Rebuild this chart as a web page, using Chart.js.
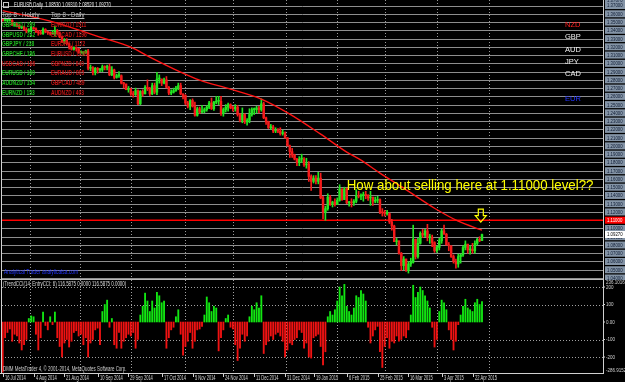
<!DOCTYPE html>
<html>
<head>
<meta charset="utf-8">
<script src="https://cdn.jsdelivr.net/npm/chart.js@4.4.1/dist/chart.umd.min.js"></script>
<style>
html, body { margin: 0; padding: 0; background: #000; overflow: hidden; }
#wrap { position: relative; width: 625px; height: 382px; background: #000; }
canvas { position: absolute; left: 0; }
#price { top: 0; }
#cci { top: 279px; }
</style>
</head>
<body>
<div id="wrap">
  <canvas id="price" width="625" height="280"></canvas>
  <canvas id="cci" width="625" height="103"></canvas>
</div>
<script>
// EURUSD daily, 16 Jul 2014 - 28 Apr 2015 (one value per trading day)
const firstOpen = 1.353;
const closes = [
  1.352,1.352,1.352,1.352,1.346,1.347,1.346,1.343,1.344,1.341,1.339,1.339,1.343,
  1.342,1.338,1.337,1.336,1.341,1.338,1.337,1.336,1.336,1.340,
  1.336,1.332,1.326,1.328,1.324,1.320,1.317,1.319,1.318,1.313,
  1.313,1.313,1.315,1.294,1.295,1.289,1.294,1.292,1.292,1.296,
  1.295,1.296,1.286,1.292,1.283,1.285,1.285,1.276,1.275,1.268,
  1.269,1.263,1.262,1.267,1.251,1.266,1.263,1.271,1.269,1.263,
  1.273,1.265,1.281,1.281,1.276,1.280,1.271,1.264,1.265,1.267,
  1.270,1.273,1.263,1.261,1.252,1.248,1.255,1.248,1.237,1.245,
  1.241,1.242,1.244,1.247,1.252,1.245,1.253,1.254,1.254,1.239,
  1.244,1.247,1.250,1.246,1.245,1.247,1.238,1.231,1.238,1.229,
  1.231,1.238,1.244,1.244,1.246,1.244,1.251,1.234,1.229,1.222,
  1.223,1.218,1.219,1.218,1.215,1.215,1.210,1.200,1.193,1.189,
  1.184,1.180,1.184,1.184,1.177,1.178,1.163,1.157,1.161,1.157,
  1.161,1.137,1.120,1.124,1.138,1.129,1.132,1.129,1.134,1.148,
  1.135,1.148,1.131,1.132,1.131,1.133,1.140,1.139,1.140,1.141,
  1.140,1.137,1.138,1.133,1.134,1.135,1.120,1.119,1.118,1.118,
  1.108,1.103,1.084,1.085,1.070,1.055,1.063,1.049,1.057,1.059,
  1.087,1.066,1.082,1.094,1.092,1.097,1.089,1.089,1.083,1.073,
  1.077,1.085,1.097,1.093,1.080,1.079,1.066,1.060,1.057,1.066,
  1.068,1.077,1.081,1.074,1.075,1.073,1.082,1.087,1.0853,1.0927
];
const highs = [
  1.354,1.355,1.354,1.354,1.353,1.348,1.349,1.347,1.345,1.345,1.343,1.342,1.345,
  1.344,1.343,1.340,1.340,1.343,1.342,1.339,1.338,1.340,1.345,
  1.341,1.338,1.333,1.330,1.330,1.321,1.321,1.320,1.320,1.318,
  1.315,1.314,1.316,1.317,1.298,1.296,1.295,1.295,1.294,1.298,
  1.297,1.298,1.299,1.296,1.293,1.287,1.290,1.286,1.277,1.275,
  1.272,1.270,1.266,1.270,1.268,1.267,1.268,1.273,1.280,1.271,
  1.276,1.276,1.289,1.286,1.281,1.282,1.284,1.272,1.268,1.270,
  1.272,1.276,1.276,1.263,1.262,1.254,1.256,1.257,1.253,1.247,
  1.247,1.249,1.246,1.249,1.254,1.258,1.254,1.260,1.260,1.260,
  1.246,1.250,1.252,1.251,1.248,1.250,1.249,1.239,1.246,1.239,
  1.233,1.245,1.246,1.246,1.248,1.248,1.257,1.253,1.235,1.230,
  1.226,1.225,1.222,1.221,1.222,1.219,1.217,1.210,1.201,1.197,
  1.190,1.185,1.187,1.190,1.186,1.185,1.181,1.165,1.164,1.164,
  1.168,1.167,1.139,1.127,1.142,1.140,1.133,1.136,1.137,1.153,
  1.148,1.150,1.149,1.133,1.136,1.135,1.147,1.145,1.142,1.144,
  1.145,1.141,1.145,1.138,1.138,1.139,1.136,1.124,1.122,1.122,
  1.119,1.111,1.104,1.088,1.085,1.071,1.066,1.062,1.060,1.064,
  1.104,1.087,1.088,1.096,1.099,1.099,1.105,1.093,1.092,1.084,
  1.079,1.088,1.099,1.104,1.094,1.083,1.079,1.068,1.063,1.069,
  1.069,1.079,1.085,1.081,1.079,1.082,1.085,1.088,1.090,1.0931
];
const lows = [
  1.351,1.351,1.350,1.351,1.346,1.345,1.344,1.342,1.342,1.340,1.337,1.338,1.338,
  1.341,1.337,1.334,1.335,1.335,1.337,1.335,1.334,1.335,1.333,
  1.335,1.331,1.325,1.324,1.322,1.317,1.316,1.316,1.315,1.312,
  1.312,1.310,1.312,1.292,1.291,1.286,1.286,1.288,1.290,1.290,
  1.292,1.292,1.285,1.285,1.281,1.282,1.283,1.275,1.270,1.268,
  1.265,1.261,1.259,1.261,1.250,1.250,1.260,1.263,1.267,1.261,
  1.262,1.263,1.262,1.276,1.273,1.275,1.270,1.262,1.262,1.264,
  1.266,1.268,1.262,1.257,1.250,1.246,1.244,1.247,1.236,1.236,
  1.239,1.240,1.240,1.242,1.245,1.244,1.243,1.251,1.250,1.237,
  1.236,1.241,1.242,1.245,1.242,1.242,1.236,1.229,1.228,1.227,
  1.225,1.228,1.236,1.238,1.240,1.240,1.242,1.233,1.226,1.221,
  1.220,1.216,1.216,1.216,1.213,1.213,1.209,1.200,1.186,1.186,
  1.183,1.176,1.176,1.180,1.175,1.173,1.157,1.146,1.155,1.154,
  1.154,1.136,1.112,1.110,1.122,1.128,1.126,1.127,1.130,1.133,
  1.134,1.135,1.130,1.127,1.126,1.128,1.131,1.137,1.135,1.133,
  1.136,1.134,1.128,1.128,1.131,1.131,1.118,1.115,1.115,1.116,
  1.106,1.098,1.084,1.080,1.069,1.049,1.050,1.048,1.046,1.054,
  1.058,1.063,1.064,1.081,1.089,1.090,1.085,1.082,1.078,1.071,
  1.071,1.074,1.082,1.093,1.080,1.073,1.065,1.058,1.052,1.053,
  1.058,1.066,1.074,1.070,1.069,1.070,1.070,1.080,1.084,1.0852
];

// red moving average, read at a few bar positions
const maIdx = [0, 20, 41, 54, 62, 75, 83, 96, 109, 121, 134, 145, 151, 159, 169, 182, 192, 202];
const maVal = [1.3639, 1.3512, 1.3318, 1.3197, 1.3076, 1.2894, 1.2797, 1.2688, 1.2567, 1.2385,
               1.2142, 1.1924, 1.1827, 1.1670, 1.1488, 1.1245, 1.1088, 1.0979];

// TrendCCI histogram
const cciVals = [
  -287,-90,-60,-40,-110,-70,-80,-120,-160,-130,-100,20,35,
  30,-70,-160,-90,57,-20,-45,30,-15,57,
  -90,-140,-200,-120,-100,-143,-110,-60,-50,-80,
  -70,-130,-90,-200,-120,-100,-45,-35,-130,60,
  100,125,-30,20,-130,-150,-60,-150,-110,-90,
  -70,-80,-60,-150,-100,40,90,165,120,60,
  120,80,170,150,110,120,-150,-90,-45,-30,
  30,70,-70,-190,-140,-110,-60,-150,-110,-45,
  -40,-25,40,143,110,60,90,80,-165,-90,
  -45,20,40,-30,-40,-130,-220,-150,-70,-110,
  -80,30,90,70,110,80,150,-180,-130,-110,
  -80,-100,-70,-60,-80,-110,-200,-160,-120,-130,
  -100,-90,-45,-60,-150,-120,-200,-206,-90,-80,
  -70,-140,-245,-170,30,60,40,70,120,200,
  150,215,90,60,40,80,150,140,180,160,
  120,-30,-120,-80,-45,-25,-170,-260,-140,-90,
  -150,-110,-120,-80,-110,-100,-80,-90,-45,40,
  210,140,170,200,180,150,120,80,-30,-143,
  -100,60,125,110,70,-45,-100,-160,-110,-15,
  40,90,130,80,70,60,110,130,100,116.5875
];

// axes / grid
const priceLines = [1.37,1.36,1.35,1.34,1.33,1.32,1.31,1.30,1.29,1.28,1.27,1.26,1.25,1.24,1.23,1.22,
                    1.21,1.20,1.19,1.18,1.17,1.16,1.15,1.14,1.13,1.12,1.11,1.10,1.09,1.08,1.07,1.06,1.05,1.04];
const sellLevel = 1.11;
const monthStarts = [11.5, 32.5, 54, 77, 97, 119.5, 141, 161, 183, 205];
const dateIdx = [0, 13, 26, 40, 53, 67, 80, 93, 106, 119, 131, 145, 158, 171, 185, 198];
const dateText = ['16 Jul 2014','4 Aug 2014','21 Aug 2014','10 Sep 2014','29 Sep 2014','17 Oct 2014',
  '5 Nov 2014','24 Nov 2014','11 Dec 2014','31 Dec 2014','19 Jan 2015','6 Feb 2015','25 Feb 2015',
  '16 Mar 2015','3 Apr 2015','22 Apr 2015'];
const cciLevels = [200, 100, -100, -200];
const cciLabels = ['200', '100', '0.00', '-100', '-200'];
const cciLabelVals = [200, 100, 0, -100, -200];

// texts on the chart
const hourlyTop = ['GBPNZD / 289','GBPUSD / 242','GBPJPY / 238','GBPCHF / 186','USDCAD / 166','EURUSD / 160','AUDNZD / 154','EURNZD / 153'];
const hourlyUp = [true, true, true, true, false, true, true, true];
const dailyTop = ['EURNZD / 1511','EURCAD / 1196','EURJPY / 1172','EURUSD / 1036','GBPNZD / 840','EURAUD / 805','GBPCAD / 489','AUDNZD / 403'];
const currencies = ['NZD', 'GBP', 'AUD', 'JPY', 'CAD', 'EUR'];
const currencyY = [25, 37, 50, 62, 74, 99];
const currencyColor = ['#ff2020', '#f2f2f2', '#f2f2f2', '#f2f2f2', '#f2f2f2', '#2233ff'];
const noteIdx = 145, notePrice = 1.1464;
const arrowIdx = 201.5, arrowPrice = 1.1076;

const opens = closes.map((c, i) => i === 0 ? firstOpen : closes[i - 1]);
const bars = closes.map((c, i) => i);
const upColor = '#22e622', dnColor = '#f51a1a';
const barColor = i => closes[i] >= opens[i] ? upColor : dnColor;
const smallFont = '"Liberation Sans", Arial, sans-serif';

function line(ctx, x1, y1, x2, y2) {
  ctx.beginPath(); ctx.moveTo(x1, y1); ctx.lineTo(x2, y2); ctx.stroke();
}

// MT4 text is narrow, so squeeze it horizontally
function txt(ctx, s, x, y, size, color, sx, bold) {
  ctx.save();
  ctx.font = (bold ? 'bold ' : '') + size + 'px ' + smallFont;
  ctx.fillStyle = color;
  ctx.textBaseline = 'middle';
  ctx.textAlign = 'left';
  ctx.translate(x, y);
  ctx.scale(sx, 1);
  ctx.fillText(s, 0, 0);
  const w = ctx.measureText(s).width * sx;
  ctx.restore();
  return w;
}

function priceBox(ctx, y, label, fill, color) {
  ctx.fillStyle = fill;
  ctx.fillRect(605, y - 3.5, 22, 7);
  txt(ctx, label, 607, y + 0.3, 6, color, 0.72);
}

const pricePane = {
  id: 'pricePane',
  beforeDatasetsDraw(chart) {
    const { ctx, chartArea: a, scales: { x, y } } = chart;
    ctx.save();
    ctx.lineWidth = 1;
    ctx.strokeStyle = '#8e8e8e';
    priceLines.forEach(p => {
      const py = Math.round(y.getPixelForValue(p)) + 0.5;
      line(ctx, a.left, py, a.right, py);
    });
    ctx.strokeStyle = '#9a9a9a';
    ctx.setLineDash([1, 2]);
    monthStarts.forEach(m => {
      const px = Math.round(x.getPixelForValue(m)) + 0.5;
      line(ctx, px, a.top, px, a.bottom);
    });
    ctx.setLineDash([]);
    ctx.strokeStyle = '#ff0000';
    ctx.lineWidth = 1.6;
    const sy = y.getPixelForValue(sellLevel);
    line(ctx, a.left, sy, a.right, sy);
    ctx.restore();
  },
  afterDraw(chart) {
    const { ctx, chartArea: a, scales: { x, y } } = chart;
    ctx.save();
    // frame
    ctx.strokeStyle = '#d0d0d0';
    ctx.lineWidth = 1;
    line(ctx, a.right + 0.5, 0, a.right + 0.5, chart.height);
    line(ctx, 1.5, 0, 1.5, chart.height);

    // price labels of the horizontal lines
    priceBox(ctx, 0.5, y.max.toFixed(5), '#8494a6', '#0d1a33');
    priceLines.forEach(p => {
      if (p === sellLevel) return;
      priceBox(ctx, y.getPixelForValue(p), p.toFixed(5), '#8494a6', '#0d1a33');
    });
    priceBox(ctx, y.getPixelForValue(sellLevel), sellLevel.toFixed(5), '#ff0000', '#ffffff');
    const bid = closes[closes.length - 1];
    priceBox(ctx, y.getPixelForValue(bid), bid.toFixed(5), '#ffffff', '#000000');

    // header
    ctx.strokeStyle = '#c8c8c8';
    ctx.strokeRect(3.5, 2.5, 5, 5);
    const o = opens[opens.length - 1], h = highs[highs.length - 1], l = lows[lows.length - 1];
    txt(ctx, 'EURUSD,Daily  ' + o.toFixed(5) + ' ' + h.toFixed(5) + ' ' + l.toFixed(5) + ' ' + bid.toFixed(5),
        14, 5, 6.5, '#ececec', 0.66);

    // top 8 lists
    let w = txt(ctx, 'Top 8 - Hourly', 2, 15, 7, '#bdbdbd', 0.86);
    ctx.strokeStyle = '#bdbdbd';
    line(ctx, 2, 18.5, 2 + w, 18.5);
    w = txt(ctx, 'Top 8 - Daily', 51, 15, 7, '#bdbdbd', 0.86);
    line(ctx, 51, 18.5, 51 + w, 18.5);
    hourlyTop.forEach((s, i) => {
      txt(ctx, s, 2, 25 + i * 9.7, 7, hourlyUp[i] ? '#1fbf1f' : '#c41414', 0.7, true);
    });
    dailyTop.forEach((s, i) => {
      txt(ctx, s, 51, 25 + i * 9.7, 7, '#c41414', 0.7, true);
    });

    // currency strength list
    currencies.forEach((s, i) => {
      txt(ctx, s, 565, currencyY[i], 7.5, currencyColor[i], 1);
    });

    // annotation
    ctx.save();
    ctx.font = '14px ' + smallFont;
    ctx.fillStyle = '#ffff00';
    ctx.textBaseline = 'alphabetic';
    ctx.translate(x.getPixelForValue(noteIdx), y.getPixelForValue(notePrice));
    ctx.scale(0.95, 1);
    ctx.fillText('How about selling here at 1.11000 level??', 0, 0);
    ctx.restore();

    // yellow down arrow
    const ax = x.getPixelForValue(arrowIdx), ay = y.getPixelForValue(arrowPrice);
    ctx.strokeStyle = '#ffff00';
    ctx.lineWidth = 1.2;
    ctx.beginPath();
    ctx.moveTo(ax, ay);
    ctx.lineTo(ax - 5.5, ay - 6.5);
    ctx.lineTo(ax - 2.5, ay - 6.5);
    ctx.lineTo(ax - 2.5, ay - 13);
    ctx.lineTo(ax + 2.5, ay - 13);
    ctx.lineTo(ax + 2.5, ay - 6.5);
    ctx.lineTo(ax + 5.5, ay - 6.5);
    ctx.closePath();
    ctx.stroke();

    txt(ctx, 'Analytical Trader analyticalsa.com', 4, 272, 7, '#2233ff', 0.7);
    ctx.restore();
  }
};

const cciPane = {
  id: 'cciPane',
  beforeDatasetsDraw(chart) {
    const { ctx, chartArea: a, scales: { x, y } } = chart;
    ctx.save();
    ctx.strokeStyle = '#a0a0a0';
    ctx.lineWidth = 1;
    ctx.setLineDash([1, 2]);
    cciLevels.forEach(v => {
      const py = Math.round(y.getPixelForValue(v)) + 0.5;
      line(ctx, a.left, py, a.right, py);
    });
    monthStarts.forEach(m => {
      const px = Math.round(x.getPixelForValue(m)) + 0.5;
      line(ctx, px, a.top, px, a.bottom);
    });
    ctx.restore();
  },
  afterDraw(chart) {
    const { ctx, chartArea: a, scales: { x, y } } = chart;
    ctx.save();
    ctx.lineWidth = 1;
    ctx.strokeStyle = '#b8b8b8';
    line(ctx, 0, 0.5, a.right, 0.5);
    ctx.strokeStyle = '#d0d0d0';
    line(ctx, 0, a.bottom + 0.5, a.right + 1, a.bottom + 0.5);
    line(ctx, a.right + 0.5, 0, a.right + 0.5, a.bottom + 1);
    line(ctx, 1.5, 0, 1.5, a.bottom + 1);

    // right scale
    txt(ctx, '236.1016', 606, 3, 6, '#d0d0d0', 0.75);
    cciLabels.forEach((s, i) => {
      const py = y.getPixelForValue(cciLabelVals[i]);
      line(ctx, a.right, py, a.right + 2, py);
      txt(ctx, s, 606, py, 6, '#d0d0d0', 0.75);
    });
    txt(ctx, '-286.9152', 606, a.bottom - 2.5, 6, '#d0d0d0', 0.75);

    // dates
    dateIdx.forEach((d, i) => {
      const px = Math.round(x.getPixelForValue(d)) + 0.5;
      line(ctx, px, a.bottom, px, a.bottom + 4);
      txt(ctx, dateText[i], px + 1.5, a.bottom + 5.5, 6.5, '#d8d8d8', 0.62);
    });

    txt(ctx, '(TrendCCI(14, EntryCCI: 6) 116.5875 0.0000 116.5875 0.0000)', 3, 5.5, 6.5, '#dcdcdc', 0.68);
    txt(ctx, 'DMM MetaTrader 4, \u00a9 2001-2014, MetaQuotes Software Corp.', 3, a.bottom - 3.5, 6.5, '#d0d0d0', 0.68);
    ctx.restore();
  }
};

const common = {
  responsive: false,
  animation: false,
  devicePixelRatio: 1,
  events: [],
  plugins: { legend: { display: false }, tooltip: { enabled: false } }
};

new Chart(document.getElementById('price'), {
  type: 'bar',
  data: {
    datasets: [
      {
        type: 'line',
        data: maIdx.map((v, i) => ({ x: v, y: maVal[i] })),
        borderColor: '#ff1414',
        borderWidth: 1.4,
        pointRadius: 0,
        cubicInterpolationMode: 'monotone',
        order: 0
      },
      {
        data: bars.map(i => ({ x: i, y: [Math.min(opens[i], closes[i]), Math.max(opens[i], closes[i])] })),
        backgroundColor: c => barColor(c.dataIndex),
        barThickness: 1.8,
        minBarLength: 1,
        grouped: false,
        order: 1
      },
      {
        data: bars.map(i => ({ x: i, y: [Math.min(lows[i], opens[i], closes[i]), Math.max(highs[i], opens[i], closes[i])] })),
        backgroundColor: c => barColor(c.dataIndex),
        barThickness: 1,
        grouped: false,
        order: 2
      }
    ]
  },
  options: {
    ...common,
    layout: { padding: { left: 2, right: 22, top: 0, bottom: 1 } },
    scales: {
      x: { type: 'linear', offset: false, min: -0.3, max: 253, display: false },
      y: { min: 1.0388, max: 1.3767, display: false }
    }
  },
  plugins: [pricePane]
});

new Chart(document.getElementById('cci'), {
  type: 'bar',
  data: {
    datasets: [{
      data: bars.map(i => ({ x: i, y: cciVals[i] })),
      backgroundColor: c => cciVals[c.dataIndex] > 0 ? '#12e612' : '#f01212',
      barThickness: 1.2,
      grouped: false
    }]
  },
  options: {
    ...common,
    layout: { padding: { left: 2, right: 22, top: 1, bottom: 9 } },
    scales: {
      x: { type: 'linear', offset: false, min: -0.3, max: 253, display: false },
      y: { min: -291.4, max: 240, display: false }
    }
  },
  plugins: [cciPane]
});
</script>
</body>
</html>
